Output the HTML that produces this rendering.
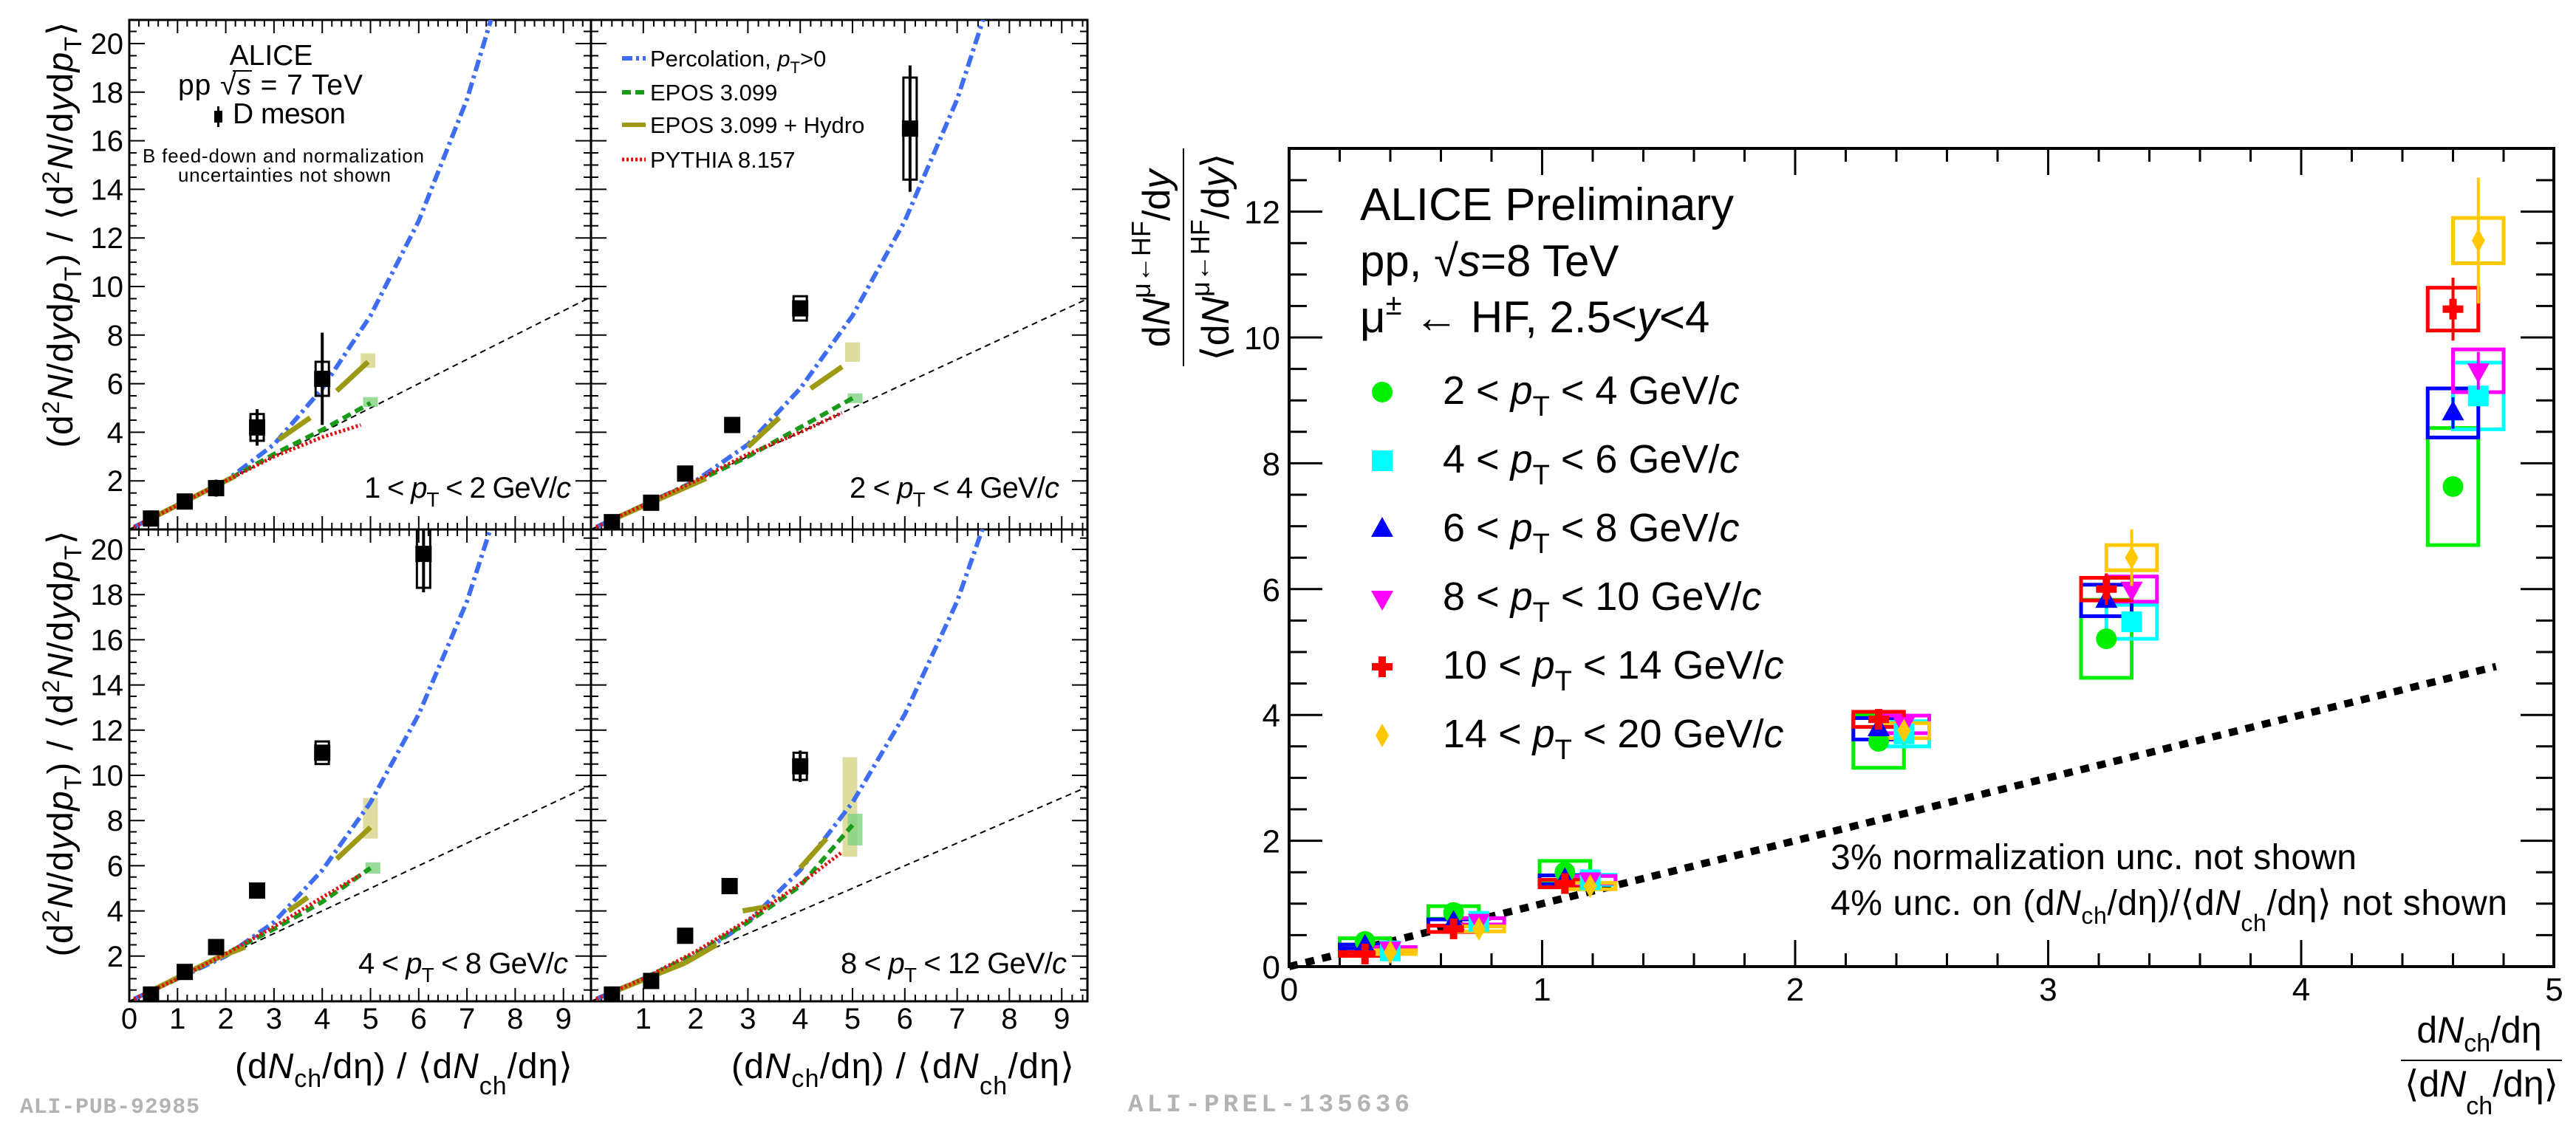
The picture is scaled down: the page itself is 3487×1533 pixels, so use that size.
<!DOCTYPE html>
<html><head><meta charset="utf-8"><style>
html,body{margin:0;padding:0;background:#fff;}
svg{display:block;font-family:"Liberation Sans",sans-serif;}
</style></head><body>
<svg id="fig" width="3487" height="1533" viewBox="0 0 3487 1533">
<rect x="0" y="0" width="3487" height="1533" fill="#fff"/>
<defs>
<clipPath id="c0"><rect x="175" y="27" width="625" height="690"/></clipPath>
<clipPath id="c1"><rect x="800" y="27" width="672" height="690"/></clipPath>
<clipPath id="c2"><rect x="175" y="717" width="625" height="639"/></clipPath>
<clipPath id="c3"><rect x="800" y="717" width="672" height="639"/></clipPath>
</defs>
<g id="left"></g>
<g id="right"></g>

<!-- left static text -->
<text x="367" y="88" font-size="39" text-anchor="middle">ALICE</text>
<text x="241" y="128" font-size="39" textLength="250">pp  √<tspan font-style="italic">s</tspan> = 7 TeV</text>
<line x1="315" y1="96" x2="341" y2="96" stroke="#000" stroke-width="2"/>
<rect x="290" y="150" width="11" height="16" fill="#000"/>
<line x1="295.5" y1="144" x2="295.5" y2="172" stroke="#000" stroke-width="3"/>
<text x="315" y="167" font-size="39" textLength="153">D meson</text>
<text x="193" y="220" font-size="26" textLength="381">B feed-down and normalization</text>
<text x="241" y="246" font-size="26" textLength="288">uncertainties not shown</text>

<g>
<line x1="842" y1="79" x2="874" y2="79" stroke="#3f6df2" stroke-width="6" stroke-dasharray="14,5,4,5"/>
<text x="880" y="90" font-size="31">Percolation, <tspan font-style="italic">p</tspan><tspan font-size="22" dy="9">T</tspan><tspan dy="-9">&gt;0</tspan></text>
<line x1="842" y1="125" x2="874" y2="125" stroke="#1a9a1a" stroke-width="6" stroke-dasharray="12,6"/>
<text x="880" y="136" font-size="31">EPOS 3.099</text>
<line x1="842" y1="169" x2="874" y2="169" stroke="#9c9a14" stroke-width="6"/>
<text x="880" y="180" font-size="31">EPOS 3.099 + Hydro</text>
<line x1="842" y1="216" x2="874" y2="216" stroke="#e01010" stroke-width="5" stroke-dasharray="3,3"/>
<text x="880" y="227" font-size="31">PYTHIA 8.157</text>
</g>

<text x="493" y="674" font-size="40" textLength="280">1 &lt; <tspan font-style="italic">p</tspan><tspan font-size="28" dy="12">T</tspan><tspan dy="-12"> &lt; 2 GeV/</tspan><tspan font-style="italic">c</tspan></text>
<text x="1150" y="674" font-size="40" textLength="284">2 &lt; <tspan font-style="italic">p</tspan><tspan font-size="28" dy="12">T</tspan><tspan dy="-12"> &lt; 4 GeV/</tspan><tspan font-style="italic">c</tspan></text>
<text x="485" y="1318" font-size="40" textLength="284">4 &lt; <tspan font-style="italic">p</tspan><tspan font-size="28" dy="12">T</tspan><tspan dy="-12"> &lt; 8 GeV/</tspan><tspan font-style="italic">c</tspan></text>
<text x="1138" y="1318" font-size="40" textLength="306">8 &lt; <tspan font-style="italic">p</tspan><tspan font-size="28" dy="12">T</tspan><tspan dy="-12"> &lt; 12 GeV/</tspan><tspan font-style="italic">c</tspan></text>

<text transform="translate(98,318) rotate(-90)" font-size="48" text-anchor="middle" textLength="577">(d<tspan font-size="32" dy="-18">2</tspan><tspan dy="18"><tspan font-style="italic">N</tspan>/d<tspan font-style="italic">y</tspan>d<tspan font-style="italic">p</tspan></tspan><tspan font-size="32" dy="12">T</tspan><tspan dy="-12">) / ⟨d</tspan><tspan font-size="32" dy="-18">2</tspan><tspan dy="18"><tspan font-style="italic">N</tspan>/d<tspan font-style="italic">y</tspan>d<tspan font-style="italic">p</tspan></tspan><tspan font-size="32" dy="12">T</tspan><tspan dy="-12">⟩</tspan></text>
<text transform="translate(98,1007) rotate(-90)" font-size="48" text-anchor="middle" textLength="577">(d<tspan font-size="32" dy="-18">2</tspan><tspan dy="18"><tspan font-style="italic">N</tspan>/d<tspan font-style="italic">y</tspan>d<tspan font-style="italic">p</tspan></tspan><tspan font-size="32" dy="12">T</tspan><tspan dy="-12">) / ⟨d</tspan><tspan font-size="32" dy="-18">2</tspan><tspan dy="18"><tspan font-style="italic">N</tspan>/d<tspan font-style="italic">y</tspan>d<tspan font-style="italic">p</tspan></tspan><tspan font-size="32" dy="12">T</tspan><tspan dy="-12">⟩</tspan></text>

<text x="318" y="1460" font-size="48" textLength="457">(d<tspan font-style="italic">N</tspan><tspan font-size="34" dy="12">ch</tspan><tspan dy="-12">/dη) / ⟨d</tspan><tspan font-style="italic">N</tspan><tspan font-size="34" dy="22">ch</tspan><tspan dy="-22">/dη⟩</tspan></text>
<text x="990" y="1460" font-size="48" textLength="464">(d<tspan font-style="italic">N</tspan><tspan font-size="34" dy="12">ch</tspan><tspan dy="-12">/dη) / ⟨d</tspan><tspan font-style="italic">N</tspan><tspan font-size="34" dy="22">ch</tspan><tspan dy="-22">/dη⟩</tspan></text>

<text x="27" y="1507" font-size="30" font-family="Liberation Mono, monospace" font-weight="bold" fill="#b3b3b3" textLength="243">ALI-PUB-92985</text>
<text x="1527" y="1505" font-size="34" font-family="Liberation Mono, monospace" font-weight="bold" fill="#b3b3b3" textLength="381">ALI-PREL-135636</text>

<!-- right static text -->
<text x="1841" y="298" font-size="62" textLength="506">ALICE Preliminary</text>
<text x="1841" y="374" font-size="60">pp, √<tspan font-style="italic">s</tspan>=8 TeV</text>
<text x="1841" y="450" font-size="60">μ<tspan font-size="40" dy="-24">±</tspan><tspan dy="24"> ← HF, 2.5&lt;</tspan><tspan font-style="italic">y</tspan>&lt;4</text>
<text x="2478" y="1177" font-size="48" textLength="712">3% normalization unc. not shown</text>
<text x="2478" y="1239" font-size="48" textLength="916">4% unc. on (d<tspan font-style="italic">N</tspan><tspan font-size="32" dy="12">ch</tspan><tspan dy="-12">/dη)/⟨d</tspan><tspan font-style="italic">N</tspan><tspan font-size="32" dy="22">ch</tspan><tspan dy="-22">/dη⟩ not shown</tspan></text>

<text transform="translate(1583,350) rotate(-90)" font-size="52" text-anchor="middle">d<tspan font-style="italic">N</tspan><tspan font-size="36" dy="-26">μ←HF</tspan><tspan dy="26">/d</tspan><tspan font-style="italic">y</tspan></text>
<line x1="1602" y1="201" x2="1602" y2="496" stroke="#000" stroke-width="2"/>
<text transform="translate(1663,348) rotate(-90)" font-size="52" text-anchor="middle">⟨d<tspan font-style="italic">N</tspan><tspan font-size="36" dy="-26">μ←HF</tspan><tspan dy="26">/d</tspan><tspan font-style="italic">y</tspan>⟩</text>

<text x="3356" y="1412" font-size="50" text-anchor="middle">d<tspan font-style="italic">N</tspan><tspan font-size="34" dy="12">ch</tspan><tspan dy="-12">/dη</tspan></text>
<line x1="3250" y1="1436" x2="3468" y2="1436" stroke="#000" stroke-width="2"/>
<text x="3359" y="1485" font-size="50" text-anchor="middle">⟨d<tspan font-style="italic">N</tspan><tspan font-size="34" dy="24">ch</tspan><tspan dy="-24">/dη⟩</tspan></text>
</svg>
<script>
// ---------- LEFT: D-meson data (4 pT bins) ----------
const dmesonX1 = [0.45, 1.15, 1.8, 2.65, 4.0];
const dmesonY1 = [0.45, 1.15, 1.7, 4.2, 6.2];
const dmesonSys1 = [0.1, 0.1, 0.25, 0.55, 0.7];
const dmesonStat1 = [0.05, 0.1, 0.35, 0.75, 1.9];
const dmesonX2 = [0.4, 1.15, 1.8, 2.7, 4.0, 6.1];
const dmesonY2 = [0.3, 1.1, 2.3, 4.3, 9.1, 16.5];
const dmesonSys2 = [0.05, 0.1, 0.15, 0.2, 0.5, 2.1];
const dmesonStat2 = [0.05, 0.05, 0.1, 0.15, 0.3, 2.6];
const dmesonX3 = [0.45, 1.15, 1.8, 2.65, 4.0, 6.1];
const dmesonY3 = [0.3, 1.3, 2.4, 4.9, 11.0, 19.8];
const dmesonSys3 = [0.05, 0.1, 0.15, 0.2, 0.5, 1.5];
const dmesonStat3 = [0.05, 0.1, 0.15, 0.2, 0.3, 1.7];
const dmesonX4 = [0.4, 1.15, 1.8, 2.65, 4.0];
const dmesonY4 = [0.3, 0.9, 2.9, 5.1, 10.4];
const dmesonSys4 = [0.05, 0.1, 0.15, 0.3, 0.6];
const dmesonStat4 = [0.05, 0.1, 0.1, 0.2, 0.7];

const percolationX = [0.1, 1, 2, 3, 4, 5, 6, 7, 7.5];
const percolationY = [0.1, 1.0, 2.0, 3.5, 5.8, 8.8, 12.7, 17.7, 21];
const modelX = [0.3, 1, 2, 3, 4, 5];
const eposY1 = [0.3, 1.0, 2.0, 3.1, 4.1, 5.2];
const eposY2 = [0.3, 1.0, 1.95, 3.0, 4.2, 5.4];
const eposY3 = [0.3, 1.0, 2.1, 3.2, 4.4, 5.9];
const eposY4 = [0.3, 1.0, 2.1, 3.5, 5.1, 7.8];
const pythiaX = [0.1, 1, 2, 3, 4, 4.8];
const pythiaY1 = [0.1, 1.0, 2.0, 3.0, 3.8, 4.3];
const pythiaY2 = [0.1, 1.0, 2.0, 3.1, 4.0, 4.8];
const pythiaY3 = [0.1, 1.0, 2.1, 3.3, 4.6, 5.6];
const pythiaY4 = [0.1, 1.0, 2.2, 3.6, 5.2, 6.6];
const hydroSeg1 = [[0.3,0.3,2.2,2.2],[3.1,3.7,3.75,4.6],[4.3,5.7,4.95,6.9]];
const hydroSeg2 = [[0.3,0.3,2.2,2.1],[3.0,3.4,3.6,4.6],[4.2,5.8,4.8,6.7]];
const hydroSeg3 = [[0.3,0.3,1.8,1.9],[1.8,1.9,2.4,2.4],[3.3,4.0,3.7,4.6],[4.3,6.3,5.0,7.7]];
const hydroSeg4 = [[0.3,0.3,1.8,1.7],[1.8,1.7,2.4,2.5],[2.9,4.0,3.4,4.2],[4.0,5.9,4.5,7.2]];
const hydroBand = [[4.95,6.95,0.3],[5.0,7.3,0.4],[5.0,8.1,0.9],[4.95,8.6,2.2]];
const eposBand = [[5.0,5.25,0.2],[5.05,5.4,0.2],[5.05,5.9,0.25],[5.05,7.6,0.7]];
const leftYTicks = [2,4,6,8,10,12,14,16,18,20];
const leftXTicksL = [0,1,2,3,4,5,6,7,8,9];
const leftXTicksR = [1,2,3,4,5,6,7,8,9];

// ---------- RIGHT: HF muons ----------
const multX_A = [0.30, 0.65, 1.09, 2.33, 3.23, 4.60];
const multX_B = [0.40, 0.75, 1.19, 2.43, 3.33, 4.70];
const greenY = [0.40, 0.86, 1.50, 3.58, 5.21, 7.63];
const greenSys = [0.05, 0.10, 0.18, 0.42, 0.62, 0.93];
const greenStat = [0.04, 0.05, 0.06, 0.08, 0.12, 0.15];
const cyanY = [0.25, 0.72, 1.38, 3.70, 5.48, 9.07];
const cyanSys = [0.03, 0.05, 0.08, 0.20, 0.27, 0.53];
const cyanStat = [0.04, 0.05, 0.06, 0.08, 0.12, 0.15];
const blueY = [0.32, 0.70, 1.38, 3.78, 5.82, 8.80];
const blueSys = [0.03, 0.05, 0.07, 0.17, 0.25, 0.39];
const blueStat = [0.04, 0.05, 0.06, 0.08, 0.12, 0.25];
const magentaY = [0.28, 0.72, 1.38, 3.85, 6.00, 9.47];
const magentaSys = [0.03, 0.05, 0.06, 0.14, 0.20, 0.34];
const magentaStat = [0.04, 0.05, 0.06, 0.08, 0.15, 0.3];
const redY = [0.20, 0.60, 1.32, 3.93, 6.00, 10.45];
const redSys = [0.03, 0.05, 0.06, 0.12, 0.18, 0.34];
const redStat = [0.10, 0.10, 0.12, 0.12, 0.25, 0.50];
const yellowY = [0.23, 0.60, 1.28, 3.75, 6.50, 11.54];
const yellowSys = [0.03, 0.04, 0.05, 0.12, 0.20, 0.36];
const yellowStat = [0.10, 0.10, 0.15, 0.15, 0.45, 1.00];
const scalingLineX = [0, 4.77];
const rightXTicks = [0,1,2,3,4,5];
const rightYTicks = [0,2,4,6,8,10,12];

const svg = document.getElementById('fig');
const NS = svg.namespaceURI;
function mk(parent, tag, name, attrs) {
  const el = document.createElementNS(NS, tag);
  for (const k in attrs) el.setAttribute(k, attrs[k]);
  
  
  parent.appendChild(el);
  return el;
}
function pathFrom(xs, ys, X, Y) {
  return xs.map((v, i) => (i ? 'L' : 'M') + X(v).toFixed(1) + ',' + Y(ys[i]).toFixed(1)).join(' ');
}

// ---------- build left pads ----------
const left = document.getElementById('left');
const pads = [
  {x0:175, ux:65.3, y0:717, uy:32.9, L:175, R:800, T:27, B:717, clip:'c0', col:0, row:0},
  {x0:800, ux:70.8, y0:717, uy:32.9, L:800, R:1472, T:27, B:717, clip:'c1', col:1, row:0},
  {x0:175, ux:65.3, y0:1356, uy:30.6, L:175, R:800, T:717, B:1356, clip:'c2', col:0, row:1},
  {x0:800, ux:70.8, y0:1356, uy:30.6, L:800, R:1472, T:717, B:1356, clip:'c3', col:1, row:1}
];
const dX = [dmesonX1, dmesonX2, dmesonX3, dmesonX4];
const dY = [dmesonY1, dmesonY2, dmesonY3, dmesonY4];
const dSys = [dmesonSys1, dmesonSys2, dmesonSys3, dmesonSys4];
const dStat = [dmesonStat1, dmesonStat2, dmesonStat3, dmesonStat4];
const eposYs = [eposY1, eposY2, eposY3, eposY4];
const pythiaYs = [pythiaY1, pythiaY2, pythiaY3, pythiaY4];
const hydroSegs = [hydroSeg1, hydroSeg2, hydroSeg3, hydroSeg4];

pads.forEach((p, k) => {
  const X = v => p.x0 + v * p.ux;
  const Y = v => p.y0 - v * p.uy;
  const g = mk(left, 'g', 'pad-' + (k + 1), {});
  const ax = mk(g, 'g', 'pad-axes', {stroke:'#000', 'stroke-width':2});
  for (let i = 1; i * 0.2 < (p.R - p.x0) / p.ux; i++) {
    const v = i * 0.2, major = Math.abs(v - Math.round(v)) < 1e-6;
    const len = major ? 18 : 9, x = X(v);
    mk(ax, 'line', 'x-tick', {x1:x, y1:p.B, x2:x, y2:p.B - len});
    mk(ax, 'line', 'x-tick-top', {x1:x, y1:p.T, x2:x, y2:p.T + len});
  }
  for (let i = 1; i * 0.5 < 21; i++) {
    const v = i * 0.5, major = (i % 4 === 0);
    const len = major ? 21 : 10, y = Y(v);
    if (y <= p.T + 1) continue;
    mk(ax, 'line', 'y-tick', {x1:p.L, y1:y, x2:p.L + len, y2:y});
    mk(ax, 'line', 'y-tick-right', {x1:p.R, y1:y, x2:p.R - len, y2:y});
  }
  mk(g, 'rect', 'pad-frame', {x:p.L, y:p.T, width:p.R - p.L, height:p.B - p.T, fill:'none', stroke:'#000', 'stroke-width':3});
  if (p.col === 0) {
    leftYTicks.forEach(t => {
      const el = mk(g, 'text', 'y-tick-label', {x:167, y:Y(t) + 14, 'font-size':40, 'text-anchor':'end'});
      el.textContent = t;
    });
  }
  if (p.row === 1) {
    (p.col === 0 ? leftXTicksL : leftXTicksR).forEach(t => {
      const el = mk(g, 'text', 'x-tick-label', {x:X(t), y:1393, 'font-size':40, 'text-anchor':'middle'});
      el.textContent = t;
    });
  }
  const cg = mk(g, 'g', 'pad-plot-area', {'clip-path':'url(#' + p.clip + ')'});
  mk(cg, 'line', 'linear-scaling-line', {x1:X(0), y1:Y(0), x2:X(9.6), y2:Y(9.6), stroke:'#000', 'stroke-width':2, 'stroke-dasharray':'8,6'});
  const hb = hydroBand[k], eb = eposBand[k];
  mk(cg, 'rect', 'hydro-uncertainty-band', {x:X(hb[0]) - 10, y:Y(hb[1] + hb[2]), width:20, height:Math.max(6, 2 * hb[2] * p.uy), fill:'#d9d68f', opacity:0.85});
  mk(cg, 'rect', 'epos-uncertainty-band', {x:X(eb[0]) - 10, y:Y(eb[1] + eb[2]), width:20, height:Math.max(5, 2 * eb[2] * p.uy), fill:'#7fd27f', opacity:0.8});
  mk(cg, 'path', 'percolation-curve', {d:pathFrom(percolationX, percolationY, X, Y), fill:'none', stroke:'#3f6df2', 'stroke-width':6, 'stroke-dasharray':'16,6,4,6'});
  mk(cg, 'path', 'epos-curve', {d:pathFrom(modelX, eposYs[k], X, Y), fill:'none', stroke:'#1a9a1a', 'stroke-width':6, 'stroke-dasharray':'12,7'});
  hydroSegs[k].forEach(s => {
    mk(cg, 'line', 'hydro-segment', {x1:X(s[0]), y1:Y(s[1]), x2:X(s[2]), y2:Y(s[3]), stroke:'#9c9a14', 'stroke-width':7});
  });
  mk(cg, 'path', 'pythia-curve', {d:pathFrom(pythiaX, pythiaYs[k], X, Y), fill:'none', stroke:'#e01010', 'stroke-width':5, 'stroke-dasharray':'3,3'});
  dX[k].forEach((xv, i) => {
    const yv = dY[k][i], s = dSys[k][i], st = dStat[k][i];
    mk(cg, 'line', 'd-meson-stat-bar', {x1:X(xv), y1:Y(yv + st), x2:X(xv), y2:Y(yv - st), stroke:'#000', 'stroke-width':4});
    mk(cg, 'rect', 'd-meson-sys-box', {x:X(xv) - 9, y:Y(yv + s), width:18, height:Math.max(2, 2 * s * p.uy), fill:'none', stroke:'#000', 'stroke-width':3});
    mk(cg, 'rect', 'd-meson-point', {x:X(xv) - 11, y:Y(yv) - 11, width:22, height:22, fill:'#000'});
  });
});

// ---------- build right chart ----------
const right = document.getElementById('right');
const RX = v => 1745 + v * 342.5;
const RY = v => 1309 - v * 85.2;
const RL = 1745, RR = 3457, RT = 201, RB = 1309;
const rax = mk(right, 'g', 'right-axes', {stroke:'#000', 'stroke-width':3});
for (let i = 1; i < 25; i++) {
  const v = i * 0.2, major = (i % 5 === 0), len = major ? 36 : 18, x = RX(v);
  mk(rax, 'line', 'x-tick', {x1:x, y1:RB, x2:x, y2:RB - len});
  mk(rax, 'line', 'x-tick-top', {x1:x, y1:RT, x2:x, y2:RT + len});
}
for (let i = 1; i < 26; i++) {
  const v = i * 0.5, major = (i % 4 === 0), len = major ? 45 : 24, y = RY(v);
  mk(rax, 'line', 'y-tick', {x1:RL, y1:y, x2:RL + len, y2:y});
  mk(rax, 'line', 'y-tick-right', {x1:RR, y1:y, x2:RR - len, y2:y});
}
mk(right, 'rect', 'right-frame', {x:RL, y:RT, width:RR - RL, height:RB - RT, fill:'none', stroke:'#000', 'stroke-width':4});
rightXTicks.forEach(t => {
  const el = mk(right, 'text', 'x-tick-label', {x:RX(t), y:1355, 'font-size':44, 'text-anchor':'middle'});
  el.textContent = t;
});
rightYTicks.forEach(t => {
  const el = mk(right, 'text', 'y-tick-label', {x:1733, y:RY(t) + 16, 'font-size':44, 'text-anchor':'end'});
  el.textContent = t;
});
mk(right, 'line', 'linear-scaling-line', {x1:RX(scalingLineX[0]), y1:RY(scalingLineX[0]), x2:RX(scalingLineX[1]), y2:RY(scalingLineX[1]), stroke:'#000', 'stroke-width':10, 'stroke-dasharray':'12,11'});

function marker(g, shape, cx, cy, color, name) {
  let el;
  if (shape === 'circle') el = mk(g, 'circle', name, {cx:cx, cy:cy, r:14, fill:color});
  else if (shape === 'square') el = mk(g, 'rect', name, {x:cx - 14, y:cy - 14, width:28, height:28, fill:color});
  else if (shape === 'up') el = mk(g, 'polygon', name, {points:`${cx},${cy-17} ${cx+15},${cy+10} ${cx-15},${cy+10}`, fill:color});
  else if (shape === 'down') el = mk(g, 'polygon', name, {points:`${cx},${cy+17} ${cx+15},${cy-10} ${cx-15},${cy-10}`, fill:color});
  else if (shape === 'cross') el = mk(g, 'path', name, {d:`M${cx-14},${cy-5}h9v-9h10v9h9v10h-9v9h-10v-9h-9z`, fill:color});
  else el = mk(g, 'polygon', name, {points:`${cx},${cy-16} ${cx+9},${cy} ${cx},${cy+16} ${cx-9},${cy}`, fill:color});
  return el;
}
const series = [
  {name:'pt-2-4', x:multX_A, y:greenY, sys:greenSys, stat:greenStat, color:'#00ee00', shape:'circle'},
  {name:'pt-4-6', x:multX_B, y:cyanY, sys:cyanSys, stat:cyanStat, color:'#00ffff', shape:'square'},
  {name:'pt-6-8', x:multX_A, y:blueY, sys:blueSys, stat:blueStat, color:'#0000ff', shape:'up'},
  {name:'pt-8-10', x:multX_B, y:magentaY, sys:magentaSys, stat:magentaStat, color:'#ff00ff', shape:'down'},
  {name:'pt-10-14', x:multX_A, y:redY, sys:redSys, stat:redStat, color:'#ff0000', shape:'cross'},
  {name:'pt-14-20', x:multX_B, y:yellowY, sys:yellowSys, stat:yellowStat, color:'#ffc800', shape:'diamond'}
];
series.forEach(s => {
  const g = mk(right, 'g', 'series-' + s.name, {});
  s.x.forEach((xv, i) => {
    const yv = s.y[i];
    mk(g, 'rect', 'sys-box', {x:RX(xv - 0.1), y:RY(yv + s.sys[i]), width:RX(xv + 0.1) - RX(xv - 0.1), height:2 * s.sys[i] * 85.2, fill:'none', stroke:s.color, 'stroke-width':5});
  });
});
series.forEach(s => {
  const g = mk(right, 'g', 'points-' + s.name, {});
  s.x.forEach((xv, i) => {
    const yv = s.y[i];
    mk(g, 'line', 'stat-bar', {x1:RX(xv), y1:RY(yv + s.stat[i]), x2:RX(xv), y2:RY(yv - s.stat[i]), stroke:s.color, 'stroke-width':4});
    marker(g, s.shape, RX(xv), RY(yv), s.color, 'data-point');
  });
});
const legLabels = [['2','4'],['4','6'],['6','8'],['8','10'],['10','14'],['14','20']];
const lg = mk(right, 'g', 'pt-legend', {});
series.forEach((s, i) => {
  const cy = 531 + i * 93;
  marker(lg, s.shape, 1871, cy, s.color, 'legend-marker');
  const t = mk(lg, 'text', 'legend-label', {x:1953, y:cy + 16, 'font-size':54});
  t.innerHTML = legLabels[i][0] + ' &lt; <tspan font-style="italic">p</tspan><tspan font-size="38" dy="16">T</tspan><tspan dy="-16"> &lt; ' + legLabels[i][1] + ' GeV/</tspan><tspan font-style="italic">c</tspan>';
});
</script>
</body></html>
